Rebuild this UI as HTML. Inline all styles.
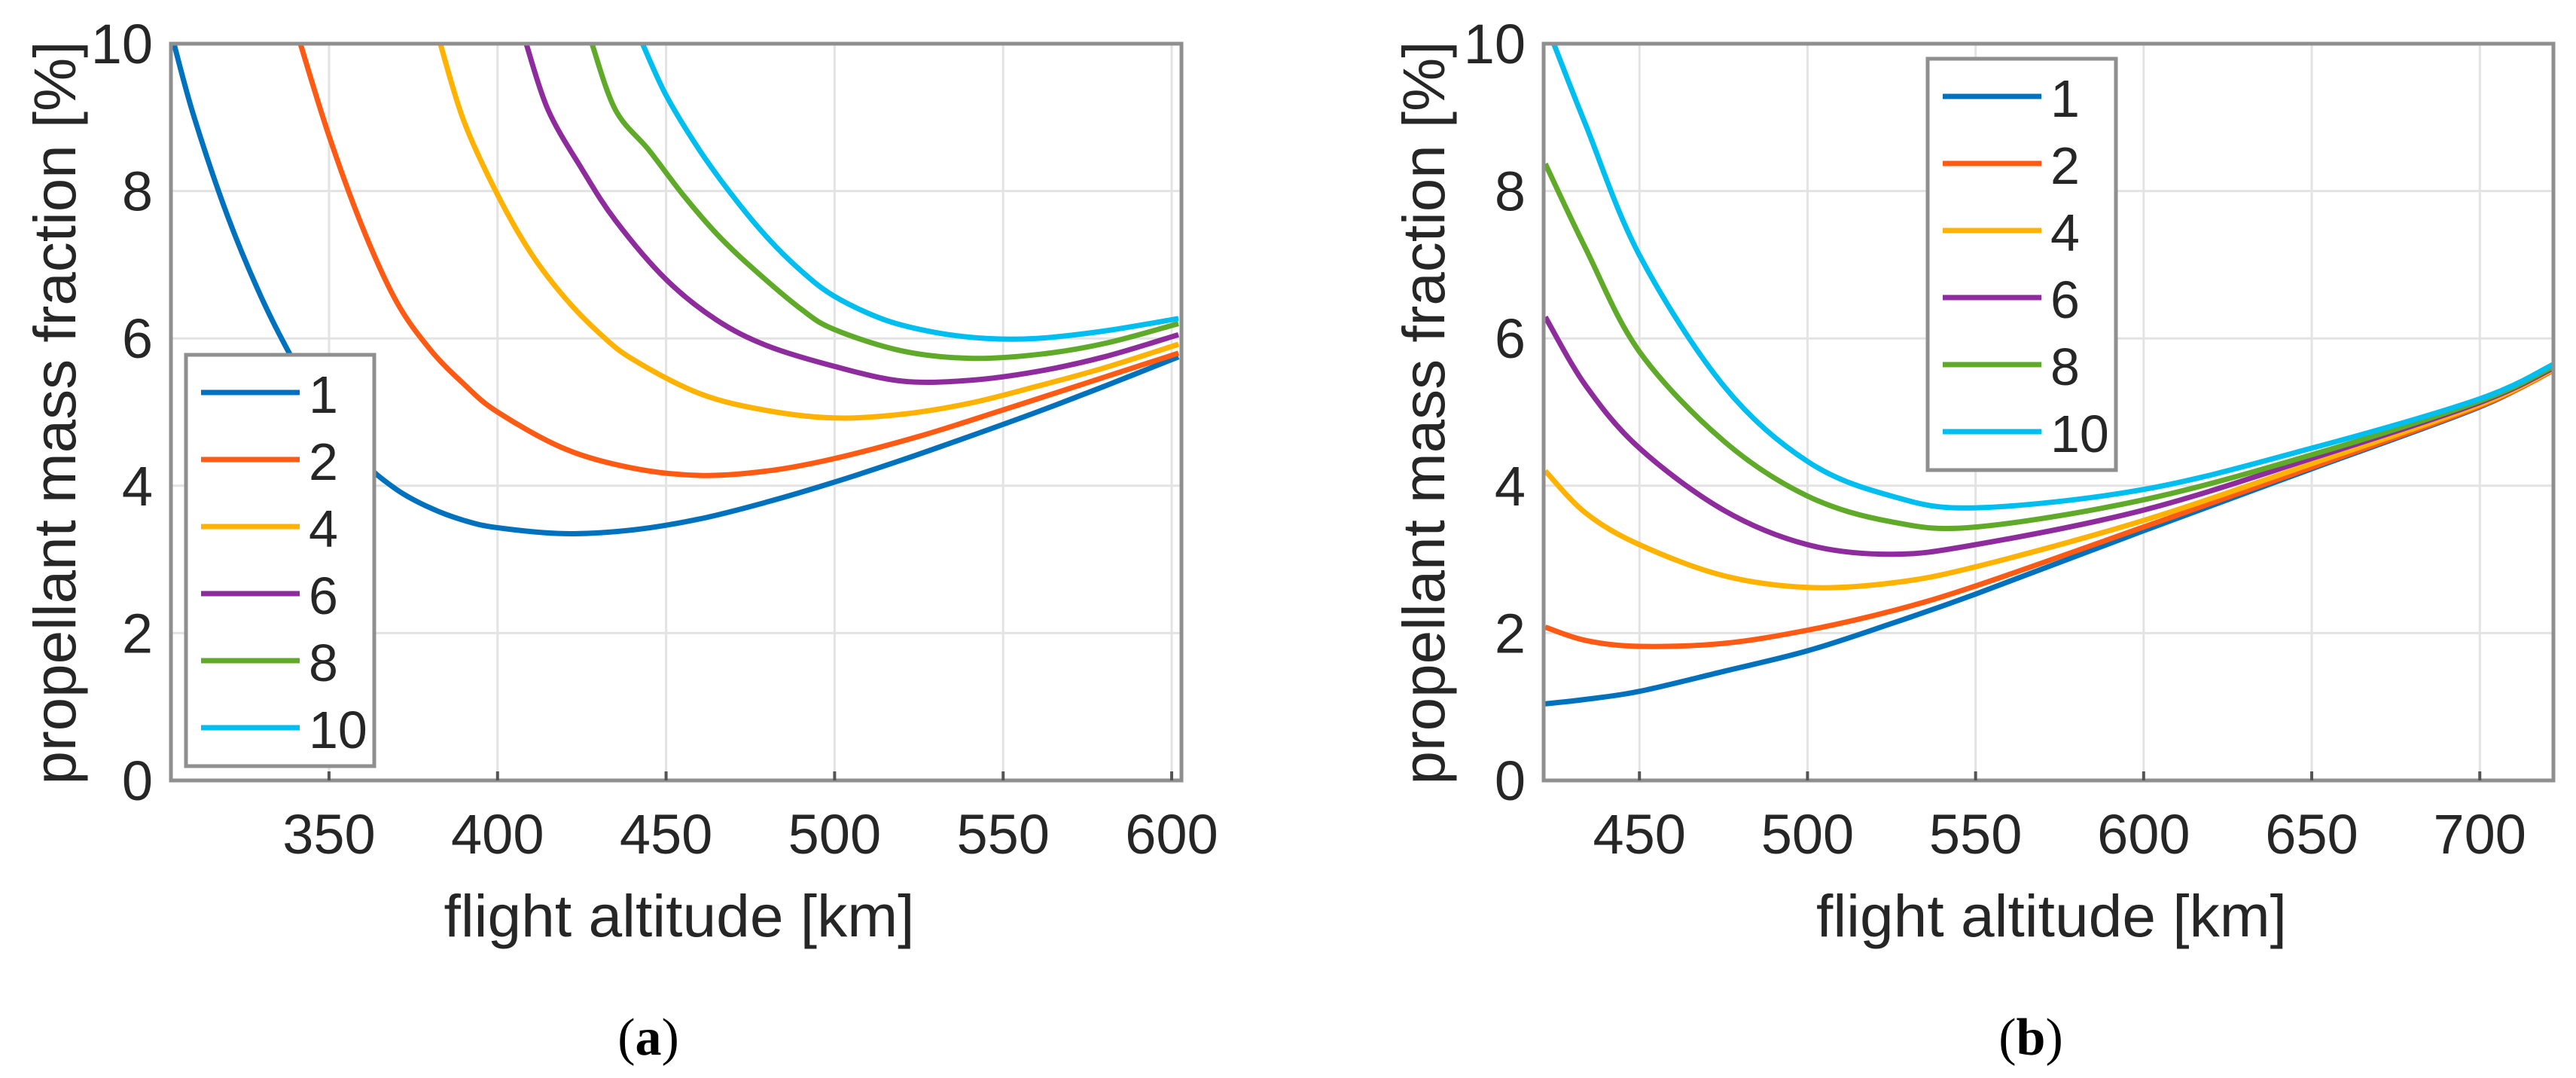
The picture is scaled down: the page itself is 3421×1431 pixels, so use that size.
<!DOCTYPE html>
<html><head><meta charset="utf-8"><style>
html,body{margin:0;padding:0;background:#fff}
svg{display:block}
text{font-family:"Liberation Sans",sans-serif;fill:#262626}
</style></head><body>
<svg id="chart" width="3421" height="1431" viewBox="0 0 3421 1431" xmlns="http://www.w3.org/2000/svg">
<defs>
<clipPath id="clipA"><rect x="227" y="58" width="1342" height="978"/></clipPath>
<clipPath id="clipB"><rect x="2050" y="58" width="1341" height="978"/></clipPath>
</defs>
<g id="panelA"></g>
<g id="panelB"></g>
<text x="861" y="1400" text-anchor="middle" style="font-family:'Liberation Serif',serif;font-size:70px;fill:#000">(<tspan font-weight="bold">a</tspan>)</text>
<text x="2697" y="1400" text-anchor="middle" style="font-family:'Liberation Serif',serif;font-size:70px;fill:#000">(<tspan font-weight="bold">b</tspan>)</text>
</svg>
<script>
const seriesNames = ["1","2","4","6","8","10"];
const seriesColors = ["#0072BD","#FF5A14","#FFB300","#8E2C9E","#5FAA28","#00BFF0"];
const yTicks = [0,2,4,6,8,10];
const xTicksA = [350,400,450,500,550,600];
const xTicksB = [450,500,550,600,650,700];

const a1x = [304,310,320,330,340,350,360,370,380,390,400,420,440,460,480,500,520,540,560,580,602];
const a1y = [10,9.0,7.65,6.55,5.65,4.9,4.33,3.95,3.7,3.53,3.43,3.35,3.4,3.55,3.78,4.05,4.35,4.67,5.0,5.35,5.75];
const a2x = [341.5,350,360,370,380,390,400,420,440,460,480,500,525,550,575,602];
const a2y = [10,8.75,7.5,6.5,5.85,5.38,5.0,4.5,4.24,4.14,4.2,4.37,4.67,5.03,5.4,5.8];
const a4x = [383,390,400,410,420,430,440,460,480,500,520,540,560,580,602];
const a4y = [10,8.95,7.95,7.15,6.55,6.08,5.72,5.25,5.02,4.92,4.97,5.12,5.35,5.6,5.92];
const a6x = [408.5,415,425,435,450,465,480,500,520,540,560,580,602];
const a6y = [10,9.1,8.3,7.6,6.8,6.25,5.9,5.62,5.42,5.43,5.55,5.75,6.05];
const a8x = [428,435,445,455,465,475,490,500,520,540,560,580,602];
const a8y = [10,9.1,8.55,7.95,7.42,6.98,6.4,6.12,5.83,5.73,5.78,5.93,6.2];
const a10x = [443,450,460,470,480,490,500,515,530,545,560,580,602];
const a10y = [10,9.3,8.55,7.92,7.37,6.92,6.57,6.25,6.08,6.0,6.0,6.1,6.27];

const bx = [422,434,450,475,500,525,550,600,650,700,722];
const b1y = [1.04,1.1,1.21,1.48,1.76,2.13,2.53,3.39,4.23,5.07,5.59];
const b2y = [2.08,1.9,1.82,1.86,2.04,2.3,2.64,3.44,4.25,5.08,5.57];
const b4y = [4.2,3.63,3.2,2.78,2.62,2.68,2.9,3.53,4.3,5.1,5.58];
const b6y = [6.29,5.36,4.51,3.67,3.2,3.07,3.2,3.67,4.37,5.13,5.6];
const b8y = [8.37,7.22,5.82,4.61,3.86,3.51,3.44,3.81,4.42,5.15,5.62];
const b10x = [424.5,434,450,475,500,525,550,600,650,700,722];
const b10y = [10,8.9,7.13,5.36,4.33,3.86,3.7,3.95,4.51,5.18,5.65];

const NS="http://www.w3.org/2000/svg";
function mk(tag, attrs, parent){const e=document.createElementNS(NS,tag);for(const k in attrs)e.setAttribute(k,attrs[k]);parent.appendChild(e);return e;}
function spline(pts){
  let d="M"+pts[0][0].toFixed(1)+","+pts[0][1].toFixed(1);
  for(let i=0;i<pts.length-1;i++){
    const p0=pts[Math.max(0,i-1)],p1=pts[i],p2=pts[i+1],p3=pts[Math.min(pts.length-1,i+2)];
    const c1=[p1[0]+(p2[0]-p0[0])/6,p1[1]+(p2[1]-p0[1])/6];
    const c2=[p2[0]-(p3[0]-p1[0])/6,p2[1]-(p3[1]-p1[1])/6];
    d+=" C"+c1[0].toFixed(1)+","+c1[1].toFixed(1)+" "+c2[0].toFixed(1)+","+c2[1].toFixed(1)+" "+p2[0].toFixed(1)+","+p2[1].toFixed(1);
  }
  return d;
}
function panel(g, cfg){
  const L=cfg.left,R=cfg.right,T=58,B=1036;
  const sx=v=>L+(v-cfg.xmin)/(cfg.xmax-cfg.xmin)*(R-L);
  const sy=v=>B-(v-0)/(10-0)*(B-T);
  cfg.xticks.forEach(t=>{
    const l=mk("line",{x1:sx(t),x2:sx(t),y1:T,y2:B,stroke:"#e3e3e3","stroke-width":3},g);
    
    
  });
  yTicks.forEach(t=>{
    const l=mk("line",{x1:L,x2:R,y1:sy(t),y2:sy(t),stroke:"#e3e3e3","stroke-width":3},g);
    
    
  });
  const sg=mk("g",{"clip-path":"url(#"+cfg.clip+")"},g);
  
  
  cfg.series.forEach((s,i)=>{
    const pts=s[0].map((x,j)=>[sx(x),sy(s[1][j])]);
    const p=mk("path",{d:spline(pts),fill:"none",stroke:seriesColors[i],"stroke-width":7,"stroke-linejoin":"round"},sg);
    
    
  });
  const box=mk("rect",{x:L,y:T,width:R-L,height:B-T,fill:"none",stroke:"#8f8f8f","stroke-width":5},g);
  
  
  cfg.xticks.forEach(t=>{
    const tk=mk("line",{x1:sx(t),x2:sx(t),y1:B,y2:B-12,stroke:"#555","stroke-width":4},g);
    
    
    const tx=mk("text",{x:sx(t),y:1133,"text-anchor":"middle","font-size":74},g);
    tx.textContent=t;
    
    
  });
  yTicks.forEach(t=>{
    const tx=mk("text",{x:L-24,y:sy(t)+26,"text-anchor":"end","font-size":74},g);
    tx.textContent=t;
    
    
  });
  const xl=mk("text",{x:(L+R)/2+4,y:1243,"text-anchor":"middle","font-size":79,textLength:625,lengthAdjust:"spacingAndGlyphs"},g);
  xl.textContent="flight altitude [km]";
  
  
  const yl=mk("text",{x:0,y:0,"text-anchor":"middle","font-size":79,textLength:987,lengthAdjust:"spacingAndGlyphs",transform:"translate("+cfg.ylabX+",548) rotate(-90)"},g);
  yl.textContent="propellant mass fraction [%]";
  
  
  const lg=mk("g",{},g);
  
  
  const lb=mk("rect",{x:cfg.lx,y:cfg.ly,width:250,height:546,fill:"#fff",stroke:"#8f8f8f","stroke-width":5},lg);
  
  
  seriesNames.forEach((n,i)=>{
    const yy=cfg.ly+50+i*89;
    const ln=mk("line",{x1:cfg.lx+20,x2:cfg.lx+151,y1:yy,y2:yy,stroke:seriesColors[i],"stroke-width":7},lg);
    
    
    const tx=mk("text",{x:cfg.lx+163,y:yy+27,"font-size":70,fill:"#000"},lg);
    tx.textContent=n;
    
    
  });
}
panel(document.getElementById("panelA"),{left:227,right:1569,xmin:303.1,xmax:602.9,xticks:xTicksA,clip:"clipA",ylabX:100,lx:247,ly:471,
  series:[[a1x,a1y],[a2x,a2y],[a4x,a4y],[a6x,a6y],[a8x,a8y],[a10x,a10y]]});
panel(document.getElementById("panelB"),{left:2050,right:3391,xmin:421.5,xmax:721.9,xticks:xTicksB,clip:"clipB",ylabX:1918,lx:2560,ly:78,
  series:[[bx,b1y],[bx,b2y],[bx,b4y],[bx,b6y],[bx,b8y],[b10x,b10y]]});
</script>
</body></html>
